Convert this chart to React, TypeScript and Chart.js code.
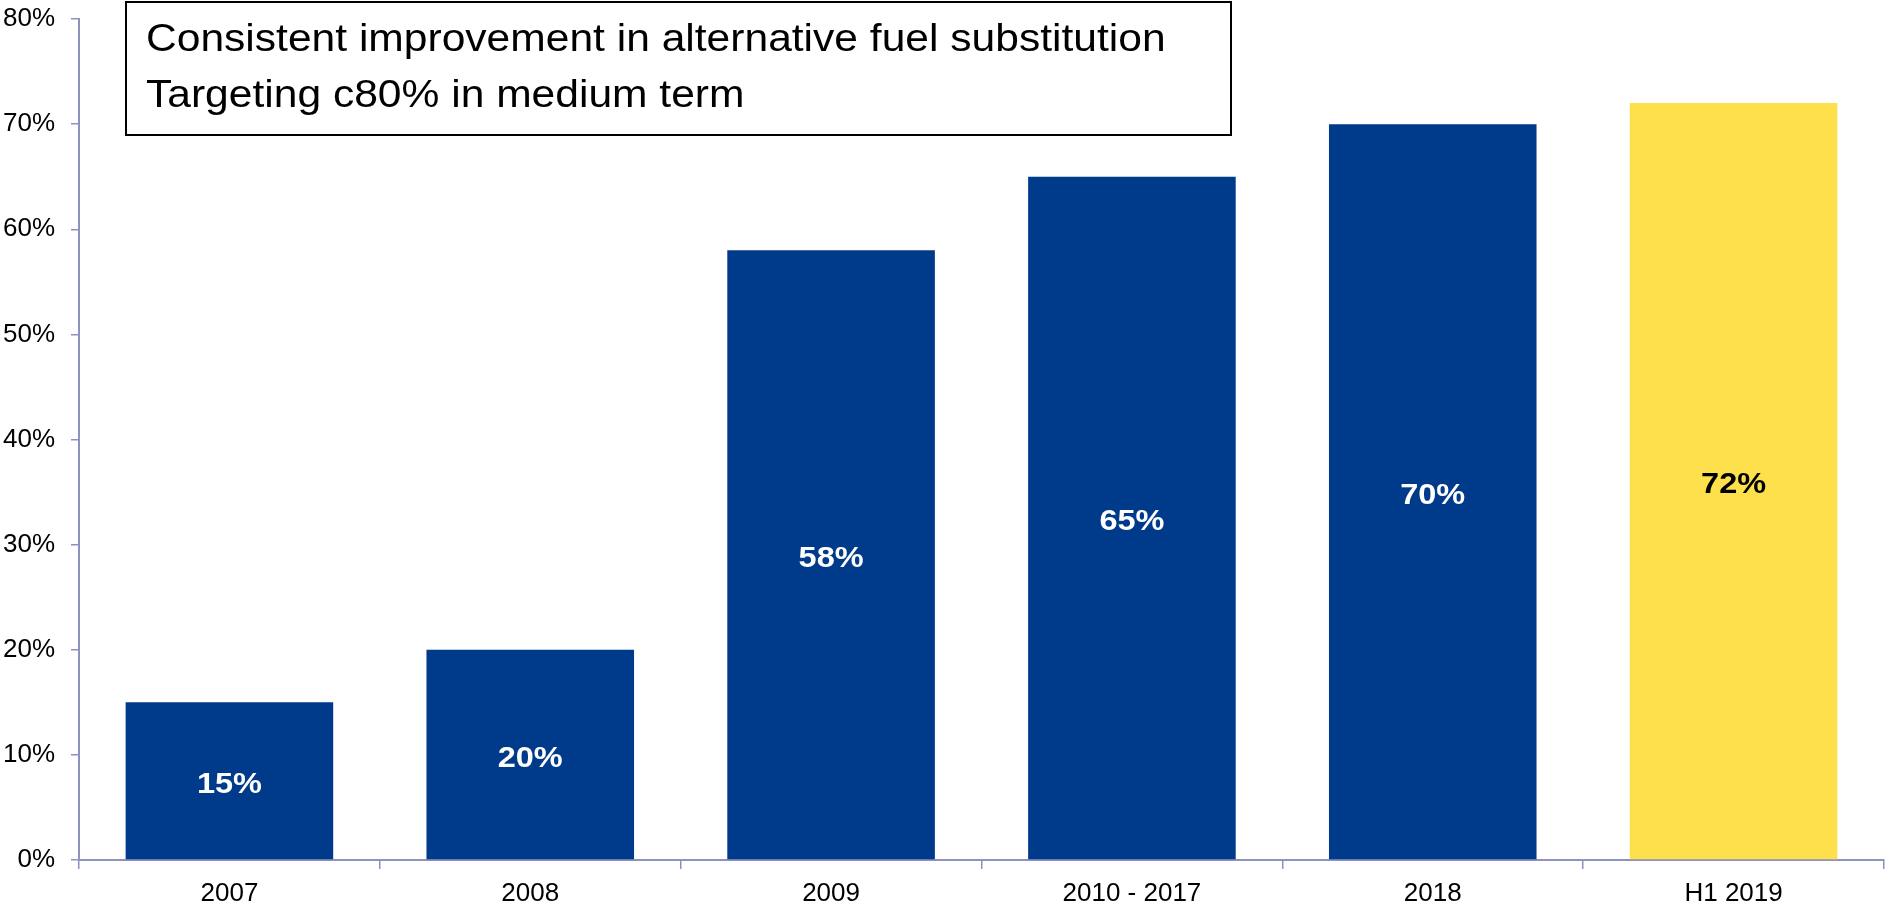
import React, { useEffect, useRef } from "react";
import { Chart, registerables } from "chart.js";

Chart.register(...registerables);

const categories = ["2007", "2008", "2009", "2010 - 2017", "2018", "H1 2019"];
const substitution = [15, 20, 58, 65, 70, 72];
const barColors = ["#003A8A", "#003A8A", "#003A8A", "#003A8A", "#003A8A", "#FEE04C"];
const labelColors = ["#FFFFFF", "#FFFFFF", "#FFFFFF", "#FFFFFF", "#FFFFFF", "#000000"];
const yTicks = [0, 10, 20, 30, 40, 50, 60, 70, 80];
const noteLines = [
  "Consistent improvement in alternative fuel substitution",
  "Targeting c80% in medium term",
];

const AXIS = "#8E92C0";
const FONT = "'Liberation Sans', Arial, sans-serif";
const STRETCH = 1.12;

const barLabelPlugin = {
  id: "barLabels",
  afterDatasetsDraw(chart: any) {
    const ctx = chart.ctx;
    const meta = chart.getDatasetMeta(0);
    ctx.save();
    ctx.font = `bold 29px ${FONT}`;
    ctx.textAlign = "center";
    ctx.textBaseline = "middle";
    meta.data.forEach((el: any, i: number) => {
      const v = substitution[i];
      const cx = el.x;
      const cy = (el.y + el.base) / 2 + 4;
      ctx.save();
      ctx.translate(cx, cy);
      ctx.scale(STRETCH, 1);
      ctx.fillStyle = labelColors[i];
      ctx.fillText(`${v}%`, 0, 0);
      ctx.restore();
    });
    ctx.restore();
  },
};

const notePlugin = {
  id: "noteBox",
  afterDraw(chart: any) {
    const ctx = chart.ctx;
    ctx.save();
    ctx.fillStyle = "#FFFFFF";
    ctx.fillRect(126, 2, 1105, 133);
    ctx.strokeStyle = "#000000";
    ctx.lineWidth = 2;
    ctx.strokeRect(126, 2, 1105, 133);
    ctx.fillStyle = "#000000";
    ctx.font = `38px ${FONT}`;
    ctx.textAlign = "left";
    ctx.textBaseline = "alphabetic";
    const baselines = [51, 107];
    noteLines.forEach((line, i) => {
      ctx.save();
      ctx.translate(146, baselines[i]);
      ctx.scale(STRETCH, 1);
      ctx.fillText(line, 0, 0);
      ctx.restore();
    });
    ctx.restore();
  },
};

export default function App() {
  const ref = useRef<HTMLCanvasElement | null>(null);

  useEffect(() => {
    document.body.style.margin = "0";
    const canvas = ref.current;
    if (!canvas) return;
    const chart = new Chart(canvas, {
      type: "bar",
      data: {
        labels: categories,
        datasets: [
          {
            data: substitution,
            backgroundColor: barColors,
            borderWidth: 0,
            categoryPercentage: 1,
            barPercentage: 0.69,
          },
        ],
      },
      options: {
        animation: false,
        responsive: false,
        devicePixelRatio: 1,
        layout: { padding: { top: 19, right: 1, left: 0, bottom: 0 } },
        plugins: {
          legend: { display: false },
          tooltip: { enabled: false },
        },
        scales: {
          x: {
            offset: true,
            grid: {
              display: true,
              offset: true,
              drawOnChartArea: false,
              drawTicks: true,
              tickLength: 9,
              color: AXIS,
              lineWidth: 1.5,
            },
            border: { display: true, color: AXIS, width: 2 },
            ticks: {
              color: "#000000",
              font: { family: FONT, size: 26 },
              padding: 9,
              maxRotation: 0,
              autoSkip: false,
            },
            afterFit: (s: any) => {
              s.height = 46;
              s.paddingLeft = 0;
              s.paddingRight = 0;
            },
          },
          y: {
            min: 0,
            max: 80,
            afterBuildTicks: (s: any) => {
              s.ticks = yTicks.map((v) => ({ value: v }));
            },
            grid: {
              display: true,
              drawOnChartArea: false,
              drawTicks: true,
              tickLength: 8,
              color: AXIS,
              lineWidth: 1.5,
            },
            border: { display: true, color: AXIS, width: 2 },
            ticks: {
              color: "#000000",
              font: { family: FONT, size: 26 },
              padding: 16,
              callback: (v: any) => `${v}%`,
            },
            afterFit: (s: any) => {
              s.width = 79;
              s.paddingTop = 0;
              s.paddingBottom = 0;
            },
          },
        },
      },
      plugins: [barLabelPlugin, notePlugin],
    });
    return () => chart.destroy();
  }, []);

  return (
    <div style={{ width: 1885, height: 906 }}>
      <canvas ref={ref} width={1885} height={906} style={{ display: "block" }} />
    </div>
  );
}
